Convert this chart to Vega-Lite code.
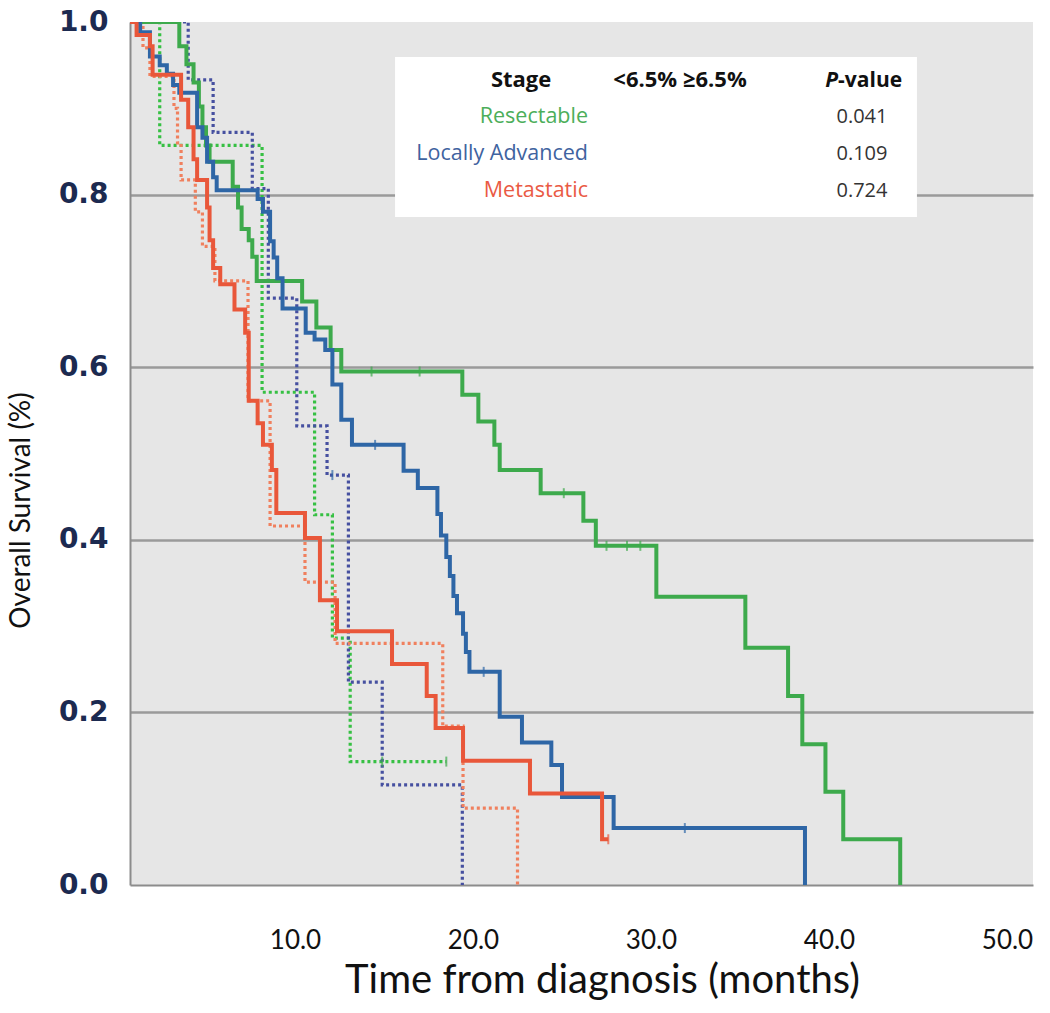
{
  "$schema": "https://vega.github.io/schema/vega-lite/v6.json",
  "width": 903,
  "height": 863,
  "autosize": {"type": "none"},
  "padding": {"left": 130, "top": 22, "right": 17, "bottom": 128},
  "background": "white",
  "config": {"view": {"fill": "#e6e6e6", "stroke": null}},
  "datasets": {
    "km": [
      {"stage": "Resectable", "group": "<6.5%", "t": 0, "v": 1},
      {"stage": "Resectable", "group": "<6.5%", "t": 3.5, "v": 0.972},
      {"stage": "Resectable", "group": "<6.5%", "t": 3.9, "v": 0.951},
      {"stage": "Resectable", "group": "<6.5%", "t": 4.3, "v": 0.93},
      {"stage": "Resectable", "group": "<6.5%", "t": 4.6, "v": 0.902},
      {"stage": "Resectable", "group": "<6.5%", "t": 4.8, "v": 0.878},
      {"stage": "Resectable", "group": "<6.5%", "t": 5.0, "v": 0.857},
      {"stage": "Resectable", "group": "<6.5%", "t": 5.2, "v": 0.838},
      {"stage": "Resectable", "group": "<6.5%", "t": 6.5, "v": 0.809},
      {"stage": "Resectable", "group": "<6.5%", "t": 6.8, "v": 0.785},
      {"stage": "Resectable", "group": "<6.5%", "t": 7.0, "v": 0.76},
      {"stage": "Resectable", "group": "<6.5%", "t": 7.4, "v": 0.747},
      {"stage": "Resectable", "group": "<6.5%", "t": 7.6, "v": 0.728},
      {"stage": "Resectable", "group": "<6.5%", "t": 7.85, "v": 0.7},
      {"stage": "Resectable", "group": "<6.5%", "t": 10.4, "v": 0.676},
      {"stage": "Resectable", "group": "<6.5%", "t": 11.2, "v": 0.646},
      {"stage": "Resectable", "group": "<6.5%", "t": 12.0, "v": 0.62},
      {"stage": "Resectable", "group": "<6.5%", "t": 12.6, "v": 0.595},
      {"stage": "Resectable", "group": "<6.5%", "t": 19.4, "v": 0.568},
      {"stage": "Resectable", "group": "<6.5%", "t": 20.3, "v": 0.537},
      {"stage": "Resectable", "group": "<6.5%", "t": 21.2, "v": 0.51},
      {"stage": "Resectable", "group": "<6.5%", "t": 21.5, "v": 0.481},
      {"stage": "Resectable", "group": "<6.5%", "t": 23.8, "v": 0.454},
      {"stage": "Resectable", "group": "<6.5%", "t": 26.2, "v": 0.422},
      {"stage": "Resectable", "group": "<6.5%", "t": 26.9, "v": 0.393},
      {"stage": "Resectable", "group": "<6.5%", "t": 30.3, "v": 0.334},
      {"stage": "Resectable", "group": "<6.5%", "t": 35.3, "v": 0.275},
      {"stage": "Resectable", "group": "<6.5%", "t": 37.7, "v": 0.219},
      {"stage": "Resectable", "group": "<6.5%", "t": 38.5, "v": 0.163},
      {"stage": "Resectable", "group": "<6.5%", "t": 39.8, "v": 0.108},
      {"stage": "Resectable", "group": "<6.5%", "t": 40.8, "v": 0.053},
      {"stage": "Resectable", "group": "<6.5%", "t": 44.0, "v": 0},
      {"stage": "Resectable", "group": "≥6.5%", "t": 0, "v": 1},
      {"stage": "Resectable", "group": "≥6.5%", "t": 2.4, "v": 0.857},
      {"stage": "Resectable", "group": "≥6.5%", "t": 8.15, "v": 0.571},
      {"stage": "Resectable", "group": "≥6.5%", "t": 11.1, "v": 0.429},
      {"stage": "Resectable", "group": "≥6.5%", "t": 12.1, "v": 0.286},
      {"stage": "Resectable", "group": "≥6.5%", "t": 13.1, "v": 0.143},
      {"stage": "Resectable", "group": "≥6.5%", "t": 18.5, "v": 0.143},
      {"stage": "Locally Advanced", "group": "<6.5%", "t": 0, "v": 1},
      {"stage": "Locally Advanced", "group": "<6.5%", "t": 1.3, "v": 0.988},
      {"stage": "Locally Advanced", "group": "<6.5%", "t": 1.85, "v": 0.96},
      {"stage": "Locally Advanced", "group": "<6.5%", "t": 2.4, "v": 0.95},
      {"stage": "Locally Advanced", "group": "<6.5%", "t": 2.8, "v": 0.94},
      {"stage": "Locally Advanced", "group": "<6.5%", "t": 3.15, "v": 0.927},
      {"stage": "Locally Advanced", "group": "<6.5%", "t": 3.5, "v": 0.918},
      {"stage": "Locally Advanced", "group": "<6.5%", "t": 4.5, "v": 0.878},
      {"stage": "Locally Advanced", "group": "<6.5%", "t": 4.8, "v": 0.866},
      {"stage": "Locally Advanced", "group": "<6.5%", "t": 5.06, "v": 0.838},
      {"stage": "Locally Advanced", "group": "<6.5%", "t": 5.4, "v": 0.82},
      {"stage": "Locally Advanced", "group": "<6.5%", "t": 5.6, "v": 0.805},
      {"stage": "Locally Advanced", "group": "<6.5%", "t": 7.9, "v": 0.795},
      {"stage": "Locally Advanced", "group": "<6.5%", "t": 8.2, "v": 0.78},
      {"stage": "Locally Advanced", "group": "<6.5%", "t": 8.6, "v": 0.746},
      {"stage": "Locally Advanced", "group": "<6.5%", "t": 8.8, "v": 0.727},
      {"stage": "Locally Advanced", "group": "<6.5%", "t": 9.0, "v": 0.703},
      {"stage": "Locally Advanced", "group": "<6.5%", "t": 9.3, "v": 0.668},
      {"stage": "Locally Advanced", "group": "<6.5%", "t": 10.6, "v": 0.64},
      {"stage": "Locally Advanced", "group": "<6.5%", "t": 11.1, "v": 0.632},
      {"stage": "Locally Advanced", "group": "<6.5%", "t": 11.7, "v": 0.62},
      {"stage": "Locally Advanced", "group": "<6.5%", "t": 12.1, "v": 0.58},
      {"stage": "Locally Advanced", "group": "<6.5%", "t": 12.6, "v": 0.539},
      {"stage": "Locally Advanced", "group": "<6.5%", "t": 13.2, "v": 0.51},
      {"stage": "Locally Advanced", "group": "<6.5%", "t": 16.1, "v": 0.48},
      {"stage": "Locally Advanced", "group": "<6.5%", "t": 16.9, "v": 0.46},
      {"stage": "Locally Advanced", "group": "<6.5%", "t": 18.0, "v": 0.43},
      {"stage": "Locally Advanced", "group": "<6.5%", "t": 18.2, "v": 0.405},
      {"stage": "Locally Advanced", "group": "<6.5%", "t": 18.5, "v": 0.38},
      {"stage": "Locally Advanced", "group": "<6.5%", "t": 18.7, "v": 0.358},
      {"stage": "Locally Advanced", "group": "<6.5%", "t": 18.9, "v": 0.335},
      {"stage": "Locally Advanced", "group": "<6.5%", "t": 19.1, "v": 0.315},
      {"stage": "Locally Advanced", "group": "<6.5%", "t": 19.44, "v": 0.291},
      {"stage": "Locally Advanced", "group": "<6.5%", "t": 19.6, "v": 0.27},
      {"stage": "Locally Advanced", "group": "<6.5%", "t": 19.8, "v": 0.247},
      {"stage": "Locally Advanced", "group": "<6.5%", "t": 21.5, "v": 0.195},
      {"stage": "Locally Advanced", "group": "<6.5%", "t": 22.75, "v": 0.165},
      {"stage": "Locally Advanced", "group": "<6.5%", "t": 24.4, "v": 0.139},
      {"stage": "Locally Advanced", "group": "<6.5%", "t": 25.0, "v": 0.102},
      {"stage": "Locally Advanced", "group": "<6.5%", "t": 27.9, "v": 0.066},
      {"stage": "Locally Advanced", "group": "<6.5%", "t": 38.65, "v": 0},
      {"stage": "Locally Advanced", "group": "≥6.5%", "t": 0, "v": 1},
      {"stage": "Locally Advanced", "group": "≥6.5%", "t": 4.0, "v": 0.933},
      {"stage": "Locally Advanced", "group": "≥6.5%", "t": 5.4, "v": 0.872},
      {"stage": "Locally Advanced", "group": "≥6.5%", "t": 7.6, "v": 0.807},
      {"stage": "Locally Advanced", "group": "≥6.5%", "t": 8.5, "v": 0.68},
      {"stage": "Locally Advanced", "group": "≥6.5%", "t": 10.1, "v": 0.532},
      {"stage": "Locally Advanced", "group": "≥6.5%", "t": 11.8, "v": 0.475},
      {"stage": "Locally Advanced", "group": "≥6.5%", "t": 13.0, "v": 0.235},
      {"stage": "Locally Advanced", "group": "≥6.5%", "t": 14.9, "v": 0.116},
      {"stage": "Locally Advanced", "group": "≥6.5%", "t": 19.4, "v": 0},
      {"stage": "Metastatic", "group": "<6.5%", "t": 0, "v": 1},
      {"stage": "Metastatic", "group": "<6.5%", "t": 1.1, "v": 0.985},
      {"stage": "Metastatic", "group": "<6.5%", "t": 1.85, "v": 0.972},
      {"stage": "Metastatic", "group": "<6.5%", "t": 2.0, "v": 0.939},
      {"stage": "Metastatic", "group": "<6.5%", "t": 3.6, "v": 0.91},
      {"stage": "Metastatic", "group": "<6.5%", "t": 4.0, "v": 0.878},
      {"stage": "Metastatic", "group": "<6.5%", "t": 4.3, "v": 0.841},
      {"stage": "Metastatic", "group": "<6.5%", "t": 4.5, "v": 0.817},
      {"stage": "Metastatic", "group": "<6.5%", "t": 5.06, "v": 0.785},
      {"stage": "Metastatic", "group": "<6.5%", "t": 5.2, "v": 0.747},
      {"stage": "Metastatic", "group": "<6.5%", "t": 5.4, "v": 0.715},
      {"stage": "Metastatic", "group": "<6.5%", "t": 5.8, "v": 0.696},
      {"stage": "Metastatic", "group": "<6.5%", "t": 6.6, "v": 0.667},
      {"stage": "Metastatic", "group": "<6.5%", "t": 7.2, "v": 0.64},
      {"stage": "Metastatic", "group": "<6.5%", "t": 7.4, "v": 0.561},
      {"stage": "Metastatic", "group": "<6.5%", "t": 7.9, "v": 0.535},
      {"stage": "Metastatic", "group": "<6.5%", "t": 8.2, "v": 0.51},
      {"stage": "Metastatic", "group": "<6.5%", "t": 8.7, "v": 0.481},
      {"stage": "Metastatic", "group": "<6.5%", "t": 8.95, "v": 0.431},
      {"stage": "Metastatic", "group": "<6.5%", "t": 10.56, "v": 0.402},
      {"stage": "Metastatic", "group": "<6.5%", "t": 11.4, "v": 0.33},
      {"stage": "Metastatic", "group": "<6.5%", "t": 12.36, "v": 0.294},
      {"stage": "Metastatic", "group": "<6.5%", "t": 15.45, "v": 0.256},
      {"stage": "Metastatic", "group": "<6.5%", "t": 17.4, "v": 0.219},
      {"stage": "Metastatic", "group": "<6.5%", "t": 17.9, "v": 0.182},
      {"stage": "Metastatic", "group": "<6.5%", "t": 19.44, "v": 0.144},
      {"stage": "Metastatic", "group": "<6.5%", "t": 23.2, "v": 0.106},
      {"stage": "Metastatic", "group": "<6.5%", "t": 27.25, "v": 0.053},
      {"stage": "Metastatic", "group": "<6.5%", "t": 27.6, "v": 0.053},
      {"stage": "Metastatic", "group": "≥6.5%", "t": 0, "v": 1},
      {"stage": "Metastatic", "group": "≥6.5%", "t": 1.46, "v": 0.97},
      {"stage": "Metastatic", "group": "≥6.5%", "t": 1.85, "v": 0.937},
      {"stage": "Metastatic", "group": "≥6.5%", "t": 3.2, "v": 0.9},
      {"stage": "Metastatic", "group": "≥6.5%", "t": 3.4, "v": 0.86},
      {"stage": "Metastatic", "group": "≥6.5%", "t": 3.6, "v": 0.817},
      {"stage": "Metastatic", "group": "≥6.5%", "t": 4.4, "v": 0.78},
      {"stage": "Metastatic", "group": "≥6.5%", "t": 4.8, "v": 0.74},
      {"stage": "Metastatic", "group": "≥6.5%", "t": 5.5, "v": 0.7},
      {"stage": "Metastatic", "group": "≥6.5%", "t": 7.36, "v": 0.561},
      {"stage": "Metastatic", "group": "≥6.5%", "t": 8.6, "v": 0.416},
      {"stage": "Metastatic", "group": "≥6.5%", "t": 10.56, "v": 0.351},
      {"stage": "Metastatic", "group": "≥6.5%", "t": 12.25, "v": 0.28},
      {"stage": "Metastatic", "group": "≥6.5%", "t": 18.3, "v": 0.184},
      {"stage": "Metastatic", "group": "≥6.5%", "t": 19.44, "v": 0.089},
      {"stage": "Metastatic", "group": "≥6.5%", "t": 22.5, "v": 0}
    ],
    "censor": [
      {"stage": "Resectable", "group": "<6.5%", "t": 14.3, "v": 0.595},
      {"stage": "Resectable", "group": "<6.5%", "t": 17.0, "v": 0.595},
      {"stage": "Resectable", "group": "<6.5%", "t": 25.1, "v": 0.454},
      {"stage": "Resectable", "group": "<6.5%", "t": 27.5, "v": 0.393},
      {"stage": "Resectable", "group": "<6.5%", "t": 28.65, "v": 0.393},
      {"stage": "Resectable", "group": "<6.5%", "t": 29.4, "v": 0.393},
      {"stage": "Resectable", "group": "≥6.5%", "t": 14.9, "v": 0.143},
      {"stage": "Resectable", "group": "≥6.5%", "t": 18.5, "v": 0.143},
      {"stage": "Locally Advanced", "group": "<6.5%", "t": 14.5, "v": 0.51},
      {"stage": "Locally Advanced", "group": "<6.5%", "t": 20.6, "v": 0.247},
      {"stage": "Locally Advanced", "group": "<6.5%", "t": 31.9, "v": 0.066},
      {"stage": "Locally Advanced", "group": "≥6.5%", "t": 12.1, "v": 0.475},
      {"stage": "Metastatic", "group": "<6.5%", "t": 27.6, "v": 0.053}
    ]
  },
  "resolve": {"scale": {"color": "independent"}},
  "layer": [
    {
      "data": {"name": "km"},
      "transform": [{"filter": "datum.group === '≥6.5%'"}],
      "mark": {"type": "line", "interpolate": "step-after", "clip": true, "strokeWidth": 3.2, "strokeDash": [3, 3]},
      "encoding": {
        "x": {
          "field": "t", "type": "quantitative",
          "scale": {"domain": [0.73, 51.46], "nice": false, "zero": false},
          "axis": {
            "values": [10, 20, 30, 40, 50], "format": ".1f",
            "title": "Time from diagnosis (months)",
            "grid": false, "ticks": false,
            "domainColor": "#8c8c8c", "domainWidth": 2,
            "labelFont": "Lato", "labelFontSize": 26, "labelColor": "#111111", "labelPadding": 42,
            "titleFont": "Lato", "titleFontSize": 40, "titleFontWeight": "normal", "titleColor": "#111111",
            "titleX": 472, "titleY": 107, "titleBaseline": "alphabetic", "titleAlign": "center"
          }
        },
        "y": {
          "field": "v", "type": "quantitative",
          "scale": {"domain": [0, 1], "nice": false},
          "axis": {
            "values": [0, 0.2, 0.4, 0.6, 0.8, 1], "format": ".1f",
            "title": "Overall Survival (%)",
            "grid": true, "gridColor": "#9a9a9a", "gridWidth": 2.5,
            "gridOpacity": {"condition": {"test": "datum.value >= 1 || datum.value <= 0", "value": 0}, "value": 1},
            "ticks": false,
            "domainColor": "#8c8c8c", "domainWidth": 2,
            "labelFont": "DejaVu Sans", "labelFontWeight": "bold", "labelFontSize": 28, "labelColor": "#1c2a50", "labelPadding": 22,
            "titleFont": "Lato", "titleFontSize": 28, "titleFontWeight": "normal", "titleColor": "#111111",
            "titleX": -109, "titleY": 488, "titleAngle": -90, "titleBaseline": "middle", "titleAlign": "center"
          }
        },
        "color": {
          "field": "stage", "type": "nominal",
          "scale": {"domain": ["Resectable", "Locally Advanced", "Metastatic"], "range": ["#36c043", "#4650a0", "#f0805e"]},
          "legend": null
        },
        "detail": {"field": "group"}
      }
    },
    {
      "data": {"name": "km"},
      "transform": [{"filter": "datum.group === '<6.5%'"}],
      "mark": {"type": "line", "interpolate": "step-after", "clip": true, "strokeWidth": 4},
      "encoding": {
        "x": {"field": "t", "type": "quantitative"},
        "y": {"field": "v", "type": "quantitative"},
        "color": {
          "field": "stage", "type": "nominal",
          "scale": {"domain": ["Resectable", "Locally Advanced", "Metastatic"], "range": ["#3daa4c", "#2e66a6", "#e9573a"]},
          "legend": null
        }
      }
    },
    {
      "data": {"name": "censor"},
      "mark": {"type": "tick", "orient": "vertical", "size": 10, "thickness": 2},
      "encoding": {
        "x": {"field": "t", "type": "quantitative"},
        "y": {"field": "v", "type": "quantitative"},
        "color": {
          "field": "stage", "type": "nominal",
          "scale": {"domain": ["Resectable", "Locally Advanced", "Metastatic"], "range": ["#3daa4c", "#2e66a6", "#e9573a"]},
          "legend": null
        }
      }
    },
    {
      "data": {"values": [{}]},
      "mark": {"type": "rect", "fill": "white"},
      "encoding": {"x": {"datum": 15.62}, "x2": {"datum": 44.94}, "y": {"datum": 0.9594}, "y2": {"datum": 0.774}}
    },
    {
      "data": {"values": [{"label": "Stage"}]},
      "mark": {"type": "text", "align": "center", "baseline": "alphabetic", "font": "Open Sans", "fontWeight": "bold", "fontSize": 22, "color": "#111111"},
      "encoding": {"x": {"datum": 22.7}, "y": {"datum": 0.9247}, "text": {"field": "label"}}
    },
    {
      "data": {"values": [{"label": "<6.5% ≥6.5%"}]},
      "mark": {"type": "text", "align": "center", "baseline": "alphabetic", "font": "Open Sans", "fontWeight": "bold", "fontSize": 22, "color": "#111111"},
      "encoding": {"x": {"datum": 31.63}, "y": {"datum": 0.9247}, "text": {"field": "label"}}
    },
    {
      "data": {"values": [{"label": "P"}]},
      "mark": {"type": "text", "align": "right", "baseline": "alphabetic", "font": "Open Sans", "fontWeight": "bold", "fontStyle": "italic", "fontSize": 21, "color": "#111111"},
      "encoding": {"x": {"datum": 40.51}, "y": {"datum": 0.9247}, "text": {"field": "label"}}
    },
    {
      "data": {"values": [{"label": "-value"}]},
      "mark": {"type": "text", "align": "left", "baseline": "alphabetic", "font": "Open Sans", "fontWeight": "bold", "fontSize": 21, "color": "#111111"},
      "encoding": {"x": {"datum": 40.51}, "y": {"datum": 0.9247}, "text": {"field": "label"}}
    },
    {
      "data": {"values": [{"label": "Resectable"}]},
      "mark": {"type": "text", "align": "right", "baseline": "alphabetic", "font": "Open Sans", "fontSize": 21.5, "color": "#4cae5a"},
      "encoding": {"x": {"datum": 26.46}, "y": {"datum": 0.883}, "text": {"field": "label"}}
    },
    {
      "data": {"values": [{"label": "Locally Advanced"}]},
      "mark": {"type": "text", "align": "right", "baseline": "alphabetic", "font": "Open Sans", "fontSize": 21.5, "color": "#3f63a0"},
      "encoding": {"x": {"datum": 26.46}, "y": {"datum": 0.84}, "text": {"field": "label"}}
    },
    {
      "data": {"values": [{"label": "Metastatic"}]},
      "mark": {"type": "text", "align": "right", "baseline": "alphabetic", "font": "Open Sans", "fontSize": 21.5, "color": "#ea5a44"},
      "encoding": {"x": {"datum": 26.46}, "y": {"datum": 0.797}, "text": {"field": "label"}}
    },
    {
      "data": {"values": [{"label": "0.041"}]},
      "mark": {"type": "text", "align": "center", "baseline": "alphabetic", "font": "Open Sans", "fontSize": 20, "color": "#333333"},
      "encoding": {"x": {"datum": 41.85}, "y": {"datum": 0.883}, "text": {"field": "label"}}
    },
    {
      "data": {"values": [{"label": "0.109"}]},
      "mark": {"type": "text", "align": "center", "baseline": "alphabetic", "font": "Open Sans", "fontSize": 20, "color": "#333333"},
      "encoding": {"x": {"datum": 41.85}, "y": {"datum": 0.84}, "text": {"field": "label"}}
    },
    {
      "data": {"values": [{"label": "0.724"}]},
      "mark": {"type": "text", "align": "center", "baseline": "alphabetic", "font": "Open Sans", "fontSize": 20, "color": "#333333"},
      "encoding": {"x": {"datum": 41.85}, "y": {"datum": 0.797}, "text": {"field": "label"}}
    }
  ]
}
